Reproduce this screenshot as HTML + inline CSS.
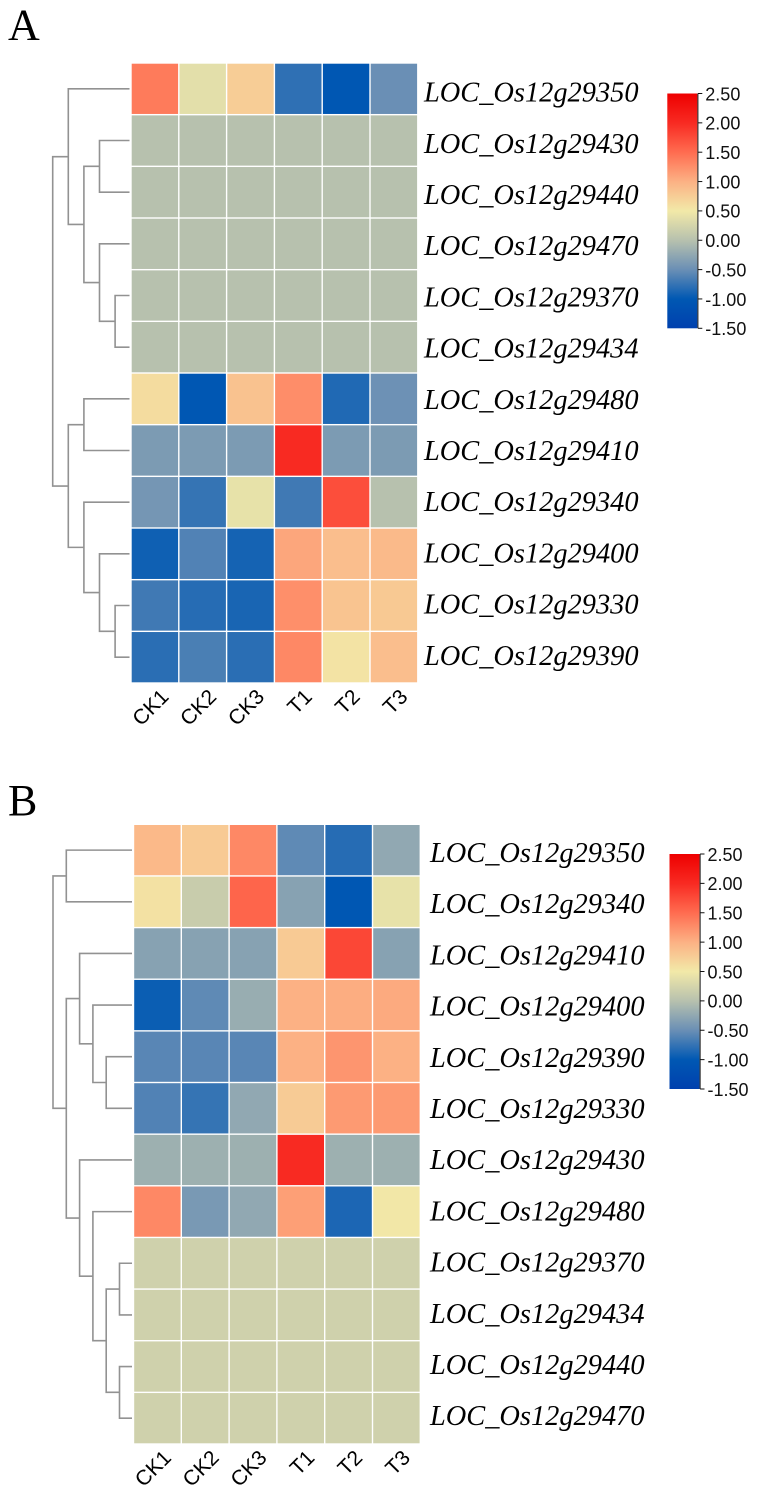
<!DOCTYPE html>
<html lang="en">
<head>
<meta charset="utf-8">
<title>Clustered heatmaps A and B</title>
<style>
  html,body{margin:0;padding:0;background:#fff;}
  svg{display:block;}
</style>
</head>
<body>
<svg id="fig" xmlns="http://www.w3.org/2000/svg" width="758" height="1496" viewBox="0 0 758 1496">
  <text x="8" y="39.5" font-family="'Liberation Serif',serif" font-size="44" fill="#000">A</text>
  <text x="8" y="815" font-family="'Liberation Serif',serif" font-size="44" fill="#000">B</text>
</svg>
<script>
const columnLabels = ['CK1','CK2','CK3','T1','T2','T3'];
const colorbarTicks = [2.5,2,1.5,1,0.5,0,-0.5,-1,-1.5];
const colorScaleValues = [-1.5,-1,-0.5,0,0.5,1,1.5,2,2.5];
const colorScaleColors = ['#0040ae','#0058b3','#6a8fb5','#b7c1ae','#f2e9a8','#fcb184','#ff6c50','#f82a22','#ee0000'];

const rowLabelsA = ['LOC_Os12g29350','LOC_Os12g29430','LOC_Os12g29440','LOC_Os12g29470','LOC_Os12g29370','LOC_Os12g29434','LOC_Os12g29480','LOC_Os12g29410','LOC_Os12g29340','LOC_Os12g29400','LOC_Os12g29330','LOC_Os12g29390'];
const valuesA = [
  [1.39,0.37,0.75,-0.78,-1.02,-0.5],
  [0,0,0,0,0,0],
  [0,0,0,0,0,0],
  [0,0,0,0,0,0],
  [0,0,0,0,0,0],
  [0,0,0,0,0,0],
  [0.62,-1.02,0.85,1.26,-0.85,-0.48],
  [-0.38,-0.38,-0.38,2.0,-0.38,-0.38],
  [-0.43,-0.75,0.41,-0.7,1.73,0],
  [-0.93,-0.62,-0.9,1.08,0.88,0.92],
  [-0.7,-0.82,-0.88,1.25,0.83,0.79],
  [-0.8,-0.65,-0.8,1.3,0.55,0.88]
];
const treeA = [5,[4,0,[3,[2,1,2],[2,3,[1,4,5]]]],[4,[3,6,7],[3,8,[2,9,[1,10,11]]]]];

const rowLabelsB = ['LOC_Os12g29350','LOC_Os12g29340','LOC_Os12g29410','LOC_Os12g29400','LOC_Os12g29390','LOC_Os12g29330','LOC_Os12g29430','LOC_Os12g29480','LOC_Os12g29370','LOC_Os12g29434','LOC_Os12g29440','LOC_Os12g29470'];
const valuesB = [
  [0.93,0.78,1.3,-0.55,-0.82,-0.25],
  [0.57,0.14,1.55,-0.31,-1.02,0.41],
  [-0.31,-0.31,-0.31,0.78,1.78,-0.31],
  [-0.95,-0.55,-0.2,1.0,1.03,1.05],
  [-0.58,-0.58,-0.58,1.0,1.2,1.0],
  [-0.62,-0.75,-0.25,0.77,1.17,1.17],
  [-0.17,-0.17,-0.17,2.0,-0.17,-0.17],
  [1.3,-0.4,-0.25,1.13,-0.87,0.52],
  [0.2,0.2,0.2,0.2,0.2,0.2],
  [0.2,0.2,0.2,0.2,0.2,0.2],
  [0.2,0.2,0.2,0.2,0.2,0.2],
  [0.2,0.2,0.2,0.2,0.2,0.2]
];
const treeB = [6,[5,0,1],[5,[4,2,[3,3,[2,4,5]]],[4,6,[3,7,[2,[1,8,9],[1,10,11]]]]]];

const NS = 'http://www.w3.org/2000/svg';
const fig = document.getElementById('fig');

function make(tag, attrs, parent){
  const el = document.createElementNS(NS, tag);
  for (const k in attrs) el.setAttribute(k, attrs[k]);
  parent.appendChild(el);
  return el;
}
function hex(c){ return [1,3,5].map(i => parseInt(c.substr(i,2),16)); }
function colorOf(v){
  const xs = colorScaleValues, cs = colorScaleColors;
  if (v <= xs[0]) return cs[0];
  for (let i = 1; i < xs.length; i++){
    if (v <= xs[i]){
      const t = (v - xs[i-1]) / (xs[i] - xs[i-1]);
      const a = hex(cs[i-1]), b = hex(cs[i]);
      return 'rgb(' + a.map((n,j) => Math.round(n + (b[j]-n)*t)).join(',') + ')';
    }
  }
  return cs[cs.length-1];
}

function drawPanel(p){
  const g = make('g', {}, fig);
  
  

  const colW = (p.right - p.left) / columnLabels.length;
  const rowH = (p.bottom - p.top) / p.rows.length;
  const xBand = i => p.left + i * colW;
  const yBand = i => p.top + i * rowH;

  p.values.forEach((row, r) => {
    row.forEach((v, c) => {
      const cell = make('rect', {
        x: xBand(c) + 0.7, y: yBand(r) + 0.7,
        width: colW - 1.4, height: rowH - 1.4,
        fill: colorOf(v)
      }, g);
      
      
    });
  });

  p.rows.forEach((label, r) => {
    const t = make('text', {
      x: p.labelX, y: p.labelTop + r * p.labelStep,
      'font-family': "'Liberation Serif',serif",
      'font-style': 'italic', 'font-size': 28.4, fill: '#000'
    }, g);
    t.textContent = label;
    
    
  });

  columnLabels.forEach((label, c) => {
    const x = xBand(c) + colW/2 + 15;
    const y = p.bottom + 15;
    const t = make('text', {
      x: x, y: y, 'text-anchor': 'end',
      transform: 'rotate(-45 ' + x + ' ' + y + ')',
      'font-family': "'Liberation Sans',sans-serif",
      'font-size': 21, fill: '#000'
    }, g);
    t.textContent = label;
    
    
  });

  const xTree = h => p.treeRoot + (p.tree[0] - h) * p.treeStep;
  function drawNode(node){
    if (typeof node === 'number') return { x: p.treeLeaf, y: yBand(node) + rowH/2 };
    const a = drawNode(node[1]);
    const b = drawNode(node[2]);
    const x = xTree(node[0]);
    const link = make('path', {
      d: 'M' + a.x + ' ' + a.y + 'H' + x + 'V' + b.y + 'H' + b.x,
      fill: 'none', stroke: '#929292', 'stroke-width': 1.6
    }, g);
    
    
    return { x: x, y: (a.y + b.y) / 2 };
  }
  drawNode(p.tree);

  const cb = p.cb;
  const yCb = v => cb.top + (colorbarTicks[0] - v) / (colorbarTicks[0] - colorbarTicks[colorbarTicks.length-1]) * (cb.bottom - cb.top);
  const defs = make('defs', {}, g);
  const grad = make('linearGradient', { id: 'grad-' + p.id, x1: 0, y1: 0, x2: 0, y2: 1 }, defs);
  for (let i = colorScaleValues.length - 1; i >= 0; i--){
    const off = (yCb(colorScaleValues[i]) - cb.top) / (cb.bottom - cb.top);
    make('stop', { offset: off, 'stop-color': colorScaleColors[i] }, grad);
  }
  const bar = make('rect', {
    x: cb.x, y: cb.top, width: cb.w, height: cb.bottom - cb.top,
    fill: 'url(#grad-' + p.id + ')'
  }, g);
  
  
  const axis = make('line', {
    x1: cb.x + cb.w + 0.6, x2: cb.x + cb.w + 0.6, y1: cb.top, y2: cb.bottom,
    stroke: '#111', 'stroke-width': 1
  }, g);
  
  
  colorbarTicks.forEach(v => {
    const y = yCb(v);
    const tick = make('line', {
      x1: cb.x + cb.w + 0.6, x2: cb.x + cb.w + 5, y1: y, y2: y,
      stroke: '#111', 'stroke-width': 1
    }, g);
    
    
    const t = make('text', {
      x: cb.x + cb.w + 8, y: y + 6.8,
      'font-family': "'Liberation Sans',sans-serif",
      'font-size': 18, fill: '#111'
    }, g);
    t.textContent = v.toFixed(2);
    
    
  });
}

drawPanel({
  id:'a', rows:rowLabelsA, values:valuesA, tree:treeA,
  left:131, right:417.8, top:63, bottom:683,
  labelX:424, labelTop:101.6, labelStep:51.2, treeRoot:52.7, treeStep:15.6, treeLeaf:129.5,
  cb:{x:667.3, w:30, top:93.5, bottom:328.3}
});
drawPanel({
  id:'b', rows:rowLabelsB, values:valuesB, tree:treeB,
  left:133.5, right:420.3, top:824.3, bottom:1444,
  labelX:430, labelTop:862, labelStep:51.2, treeRoot:53, treeStep:13.3, treeLeaf:132,
  cb:{x:669.5, w:30, top:854, bottom:1089}
});
</script>
</body>
</html>
